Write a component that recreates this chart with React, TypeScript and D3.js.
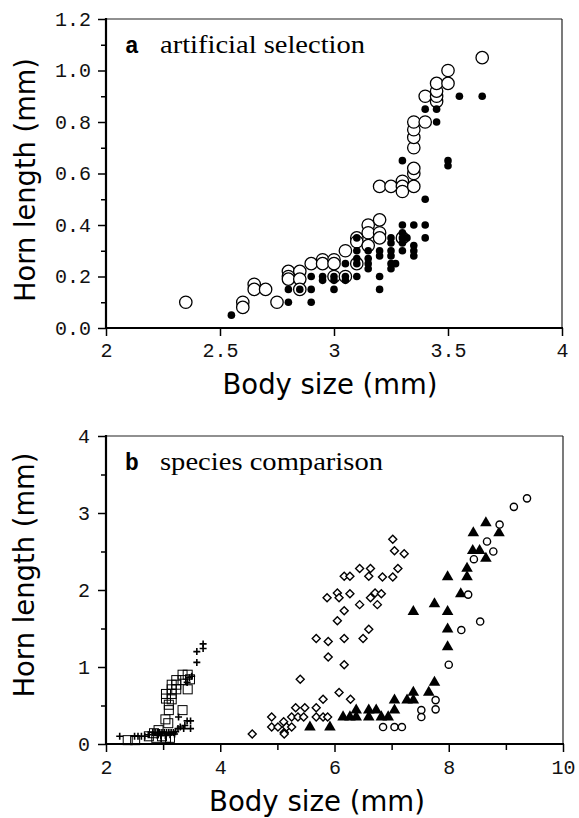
import * as d3 from 'd3';
import React, { useEffect, useRef } from 'react';

type Pt = [number, number];

// panel a: artificial selection (body size, horn length)
const selectedOpen: Pt[] = [
  [2.35, 0.10], [2.60, 0.10], [2.60, 0.08], [2.65, 0.17], [2.65, 0.15], [2.70, 0.15], [2.75, 0.10],
  [2.80, 0.22], [2.80, 0.20], [2.80, 0.19], [2.85, 0.22], [2.85, 0.19], [2.85, 0.15],
  [2.90, 0.25], [2.95, 0.265], [2.95, 0.25], [3.00, 0.265], [3.00, 0.25], [3.00, 0.20],
  [3.05, 0.30], [3.05, 0.20], [3.10, 0.35], [3.10, 0.335], [3.10, 0.25],
  [3.15, 0.40], [3.15, 0.37], [3.15, 0.32], [3.20, 0.42], [3.20, 0.37], [3.20, 0.35], [3.30, 0.35],
  [3.20, 0.55], [3.25, 0.55], [3.30, 0.57], [3.30, 0.55], [3.30, 0.53], [3.35, 0.55],
  [3.35, 0.60], [3.35, 0.62], [3.35, 0.70], [3.35, 0.74], [3.35, 0.77], [3.35, 0.80], [3.40, 0.80],
  [3.40, 0.90], [3.45, 0.88], [3.45, 0.90], [3.45, 0.92], [3.45, 0.95], [3.50, 0.95], [3.50, 1.00], [3.65, 1.05],
];
const selectedFilled: Pt[] = [
  [2.55, 0.05], [2.80, 0.15], [2.80, 0.10], [2.85, 0.15], [2.90, 0.20], [2.90, 0.15], [2.90, 0.10],
  [2.95, 0.20], [2.95, 0.185], [3.00, 0.20], [3.00, 0.185], [3.00, 0.15],
  [3.05, 0.25], [3.05, 0.20], [3.05, 0.185],
  [3.10, 0.35], [3.10, 0.30], [3.10, 0.27], [3.10, 0.25], [3.10, 0.20],
  [3.15, 0.30], [3.15, 0.27], [3.15, 0.25], [3.15, 0.23],
  [3.20, 0.30], [3.20, 0.28], [3.20, 0.20], [3.20, 0.15],
  [3.25, 0.35], [3.25, 0.33], [3.25, 0.30], [3.25, 0.28], [3.25, 0.25], [3.25, 0.23], [3.27, 0.25],
  [3.30, 0.40], [3.30, 0.37], [3.30, 0.35], [3.30, 0.33], [3.30, 0.30], [3.32, 0.35],
  [3.35, 0.40], [3.35, 0.32], [3.35, 0.30], [3.35, 0.28],
  [3.40, 0.50], [3.40, 0.40], [3.40, 0.35],
  [3.30, 0.65], [3.40, 0.85], [3.45, 0.85], [3.45, 0.80], [3.50, 0.65], [3.50, 0.63], [3.55, 0.90], [3.65, 0.90],
];

// panel b: species comparison
const squares: Pt[] = [
  [2.38, 0.05], [2.51, 0.05], [2.75, 0.10], [2.84, 0.14], [2.92, 0.18], [2.88, 0.08], [2.98, 0.10],
  [3.05, 0.08], [3.12, 0.08], [3.04, 0.32], [3.09, 0.27], [3.10, 0.44], [3.10, 0.51], [3.05, 0.65],
  [3.05, 0.59], [3.15, 0.65], [3.15, 0.58], [3.15, 0.71], [3.15, 0.77], [3.23, 0.71], [3.23, 0.77],
  [3.23, 0.83], [3.34, 0.90], [3.34, 0.83], [3.43, 0.90], [3.43, 0.71], [3.34, 0.44], [3.47, 0.84],
];
const pluses: Pt[] = [
  [2.24, 0.10], [2.50, 0.10], [2.56, 0.10], [2.62, 0.10], [2.68, 0.10], [2.74, 0.12], [2.82, 0.15],
  [2.86, 0.15], [2.90, 0.15], [2.94, 0.15], [2.98, 0.15], [3.02, 0.15], [3.06, 0.15], [3.10, 0.15],
  [3.14, 0.15], [3.18, 0.15], [3.22, 0.16], [3.26, 0.20], [2.90, 0.11], [2.96, 0.11], [3.04, 0.11],
  [3.12, 0.12], [3.20, 0.13], [3.27, 0.35], [3.30, 0.22], [3.36, 0.20], [3.38, 0.24], [3.42, 0.30],
  [3.48, 0.30], [3.48, 0.20], [3.42, 0.80], [3.46, 0.86], [3.50, 0.88], [3.59, 1.06], [3.59, 1.20],
  [3.70, 1.24], [3.70, 1.30],
];
const diamonds: Pt[] = [
  [4.56, 0.13], [4.90, 0.35], [4.90, 0.22], [5.01, 0.22], [5.11, 0.29], [5.12, 0.15], [5.12, 0.13],
  [5.16, 0.22], [5.25, 0.35], [5.25, 0.22], [5.32, 0.47], [5.36, 0.35], [5.46, 0.35], [5.48, 0.47],
  [5.40, 0.84], [5.68, 0.47], [5.68, 0.35], [5.80, 0.35], [5.88, 0.35], [5.80, 0.58], [6.08, 0.67],
  [6.28, 0.58], [5.68, 1.37], [5.89, 1.33], [5.89, 1.13], [6.17, 1.03], [6.17, 1.37], [6.50, 1.37],
  [6.60, 1.49], [6.05, 1.60], [6.17, 1.73], [6.44, 1.81], [6.75, 1.81], [5.87, 1.90], [6.05, 1.96],
  [6.08, 1.90], [6.27, 1.95], [6.63, 1.90], [6.71, 1.96], [6.82, 1.95], [6.17, 2.18], [6.27, 2.18],
  [6.44, 2.28], [6.63, 2.28], [6.60, 2.18], [6.84, 2.17], [7.02, 2.17], [7.11, 2.28], [7.02, 2.66],
  [7.05, 2.51], [7.22, 2.47],
];
const triangles: Pt[] = [
  [5.57, 0.22], [5.92, 0.22], [6.15, 0.35], [6.27, 0.35], [6.38, 0.35], [6.38, 0.44], [6.60, 0.44],
  [6.73, 0.44], [6.60, 0.35], [6.82, 0.35], [6.94, 0.35], [7.05, 0.44], [7.05, 0.57], [7.27, 0.57],
  [7.38, 0.57], [7.38, 0.67], [7.65, 0.67], [7.75, 0.80], [7.38, 1.72], [7.75, 1.82], [7.98, 1.72],
  [7.98, 1.49], [7.98, 1.26], [7.98, 2.17], [8.21, 1.95], [8.32, 2.17], [8.32, 2.28], [8.43, 2.74],
  [8.42, 2.51], [8.54, 2.51], [8.65, 2.87], [8.65, 2.41], [8.88, 2.74],
];
const rings: Pt[] = [
  [6.85, 0.22], [7.05, 0.22], [7.18, 0.22], [7.52, 0.44], [7.52, 0.35], [7.77, 0.57], [7.77, 0.45],
  [8.00, 1.03], [8.22, 1.48], [8.55, 1.59], [8.34, 1.94], [8.44, 2.40], [8.67, 2.63], [8.78, 2.50],
  [8.89, 2.85], [9.14, 3.08], [9.37, 3.19],
];

const xTicksA = [2, 2.5, 3, 3.5, 4];
const yTicksA = [0, 0.2, 0.4, 0.6, 0.8, 1.0, 1.2];
const yMinorA = [0.1, 0.3, 0.5, 0.7, 0.9, 1.1];
const xTicksB = [2, 4, 6, 8, 10];
const xMinorB = [3, 5, 7, 9];
const yTicksB = [0, 1, 2, 3, 4];
const yMinorB = [0.5, 1.5, 2.5, 3.5];

const xA = d3.scaleLinear().domain([2, 4]).range([106, 562]);
const yA = d3.scaleLinear().domain([0, 1.2]).range([328, 19]);
const xB = d3.scaleLinear().domain([2, 10]).range([106, 563]);
const yB = d3.scaleLinear().domain([0, 4]).range([744, 436]);

const tickFont = "'Liberation Mono', 'Courier New', monospace";
const titleFont = "'DejaVu Sans', Verdana, sans-serif";
const serifFont = "'Liberation Serif', 'Times New Roman', serif";

const triangle = d3.symbol(d3.symbolTriangle, 58)();
const diamond = 'M0,-4L4,0L0,4L-4,0Z';

export default function App() {
  const ref = useRef<SVGSVGElement>(null);

  useEffect(() => {
    const svg = d3.select(ref.current);
    const style = (g: any) => {
      g.select('.domain').remove();
      g.attr('font-family', null).attr('font-size', null);
      g.selectAll('line').attr('stroke-width', 1.5);
      g.selectAll('text')
        .style('font-family', tickFont)
        .style('font-size', '20px')
        .attr('fill', '#111');
    };
    svg.select<SVGGElement>('.xa').call(
      d3.axisBottom(xA).tickValues(xTicksA).tickFormat(d3.format('')).tickSize(8).tickPadding(7)
    ).call(style);
    svg.select<SVGGElement>('.ya').call(
      d3.axisLeft(yA).tickValues(yTicksA).tickFormat(d3.format('.1f')).tickSize(8).tickPadding(7)
    ).call(style);
    svg.select<SVGGElement>('.ya-minor').call(
      d3.axisLeft(yA).tickValues(yMinorA).tickFormat(() => '').tickSize(5)
    ).call(style);
    svg.select<SVGGElement>('.xb').call(
      d3.axisBottom(xB).tickValues(xTicksB).tickFormat(d3.format('d')).tickSize(8).tickPadding(8)
    ).call(style);
    svg.select<SVGGElement>('.xb-minor').call(
      d3.axisBottom(xB).tickValues(xMinorB).tickFormat(() => '').tickSize(6)
    ).call(style);
    svg.select<SVGGElement>('.yb').call(
      d3.axisLeft(yB).tickValues(yTicksB).tickFormat(d3.format('d')).tickSize(8).tickPadding(8)
    ).call(style);
    svg.select<SVGGElement>('.yb-minor').call(
      d3.axisLeft(yB).tickValues(yMinorB).tickFormat(() => '').tickSize(5)
    ).call(style);
  }, []);

  const frame = (x: d3.ScaleLinear<number, number>, y: d3.ScaleLinear<number, number>) => {
    const [l, r] = x.range();
    const [b, t] = y.range();
    return (
      <g>
        <line x1={l} x2={r} y1={t} y2={t} stroke="#222" strokeWidth={1.2} />
        <line x1={r} x2={r} y1={t} y2={b} stroke="#222" strokeWidth={1.2} />
        <line x1={l} x2={l} y1={t - 1} y2={b + 1} stroke="#000" strokeWidth={2.2} />
        <line x1={l - 1} x2={r + 1} y1={b} y2={b} stroke="#000" strokeWidth={2.2} />
      </g>
    );
  };

  return (
    <svg
      ref={ref}
      width={579}
      height={818}
      viewBox="0 0 579 818"
      style={{ position: 'absolute', left: 0, top: 0, background: '#fff' }}
    >
      <rect width={579} height={818} fill="#fff" />

      {/* panel a */}
      <g className="plot-a">
        {selectedOpen.map((d, i) => (
          <circle key={'o' + i} cx={xA(d[0])} cy={yA(d[1])} r={6.2} fill="#fff" stroke="#000" strokeWidth={1.3} />
        ))}
        {selectedFilled.map((d, i) => (
          <circle key={'f' + i} cx={xA(d[0])} cy={yA(d[1])} r={3.8} fill="#000" />
        ))}
      </g>
      {frame(xA, yA)}
      <g className="xa" transform="translate(0,328)" />
      <g className="ya" transform="translate(106,0)" />
      <g className="ya-minor" transform="translate(106,0)" />
      <text x={125} y={53} style={{ fontFamily: tickFont, fontWeight: 'bold', fontSize: 23 }}>a</text>
      <text x={160} y={53} style={{ fontFamily: serifFont, fontSize: 26 }} textLength={205} lengthAdjust="spacingAndGlyphs">
        artificial selection
      </text>
      <text x={330} y={394} textAnchor="middle" style={{ fontFamily: titleFont, fontSize: 28 }} textLength={215} lengthAdjust="spacingAndGlyphs">
        Body size (mm)
      </text>
      <text transform="translate(35,180) rotate(-90)" textAnchor="middle" style={{ fontFamily: titleFont, fontSize: 28 }} textLength={244} lengthAdjust="spacingAndGlyphs">
        Horn length (mm)
      </text>

      {/* panel b */}
      <g className="plot-b">
        {squares.map((d, i) => (
          <rect key={'s' + i} x={xB(d[0]) - 4.5} y={yB(d[1]) - 4.5} width={9} height={9} fill="none" stroke="#000" strokeWidth={1} />
        ))}
        {pluses.map((d, i) => (
          <path key={'p' + i} transform={`translate(${xB(d[0])},${yB(d[1])})`} d="M-3.5,0H3.5M0,-3.5V3.5" stroke="#000" strokeWidth={1.6} />
        ))}
        {diamonds.map((d, i) => (
          <path key={'d' + i} transform={`translate(${xB(d[0])},${yB(d[1])})`} d={diamond} fill="#fff" stroke="#000" strokeWidth={1.4} />
        ))}
        {triangles.map((d, i) => (
          <path key={'t' + i} transform={`translate(${xB(d[0])},${yB(d[1])})`} d={triangle!} fill="#000" />
        ))}
        {rings.map((d, i) => (
          <circle key={'c' + i} cx={xB(d[0])} cy={yB(d[1])} r={3.6} fill="#fff" stroke="#000" strokeWidth={1.4} />
        ))}
      </g>
      {frame(xB, yB)}
      <g className="xb" transform="translate(0,744)" />
      <g className="xb-minor" transform="translate(0,744)" />
      <g className="yb" transform="translate(106,0)" />
      <g className="yb-minor" transform="translate(106,0)" />
      <text x={125} y={470} style={{ fontFamily: tickFont, fontWeight: 'bold', fontSize: 23 }}>b</text>
      <text x={160} y={470} style={{ fontFamily: serifFont, fontSize: 26 }} textLength={223} lengthAdjust="spacingAndGlyphs">
        species comparison
      </text>
      <text x={317} y={811} textAnchor="middle" style={{ fontFamily: titleFont, fontSize: 28 }} textLength={216} lengthAdjust="spacingAndGlyphs">
        Body size (mm)
      </text>
      <text transform="translate(34,575) rotate(-90)" textAnchor="middle" style={{ fontFamily: titleFont, fontSize: 28 }} textLength={245} lengthAdjust="spacingAndGlyphs">
        Horn length (mm)
      </text>
    </svg>
  );
}
